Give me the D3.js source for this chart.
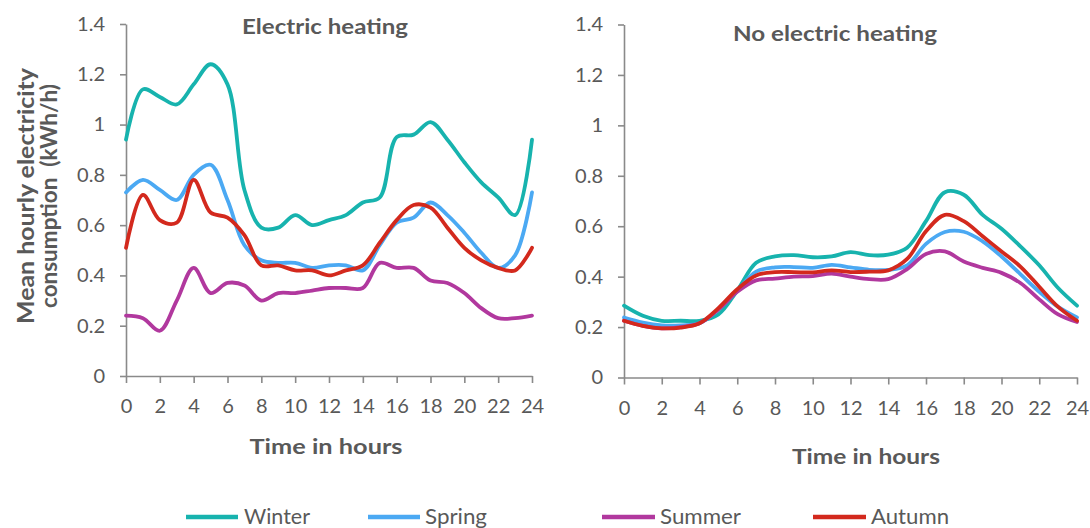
<!DOCTYPE html>
<html>
<head>
<meta charset="utf-8">
<script src="https://cdn.jsdelivr.net/npm/d3@7"></script>
<style>
  html, body { margin: 0; padding: 0; background: #fff; }
  svg { display: block; font-family: Lato, "Open Sans", sans-serif; }
</style>
</head>
<body>
<svg id="chart" width="1090" height="528"></svg>
<script>
// Hours of the day (x categories)
const hours = d3.range(0, 25);

// Mean hourly consumption (kWh/h), households with electric heating
const elecWinter = [0.94, 1.14, 1.11, 1.08, 1.16, 1.24, 1.16, 0.74, 0.59, 0.59, 0.64, 0.60, 0.62,
                    0.64, 0.69, 0.71, 0.95, 0.96, 1.01, 0.94, 0.85, 0.77, 0.71, 0.64, 0.94];
const elecSpring = [0.73, 0.78, 0.74, 0.70, 0.80, 0.84, 0.70, 0.52, 0.46, 0.45, 0.45, 0.43, 0.44,
                    0.44, 0.42, 0.52, 0.61, 0.63, 0.69, 0.64, 0.57, 0.49, 0.43, 0.48, 0.73];
const elecSummer = [0.24, 0.23, 0.18, 0.30, 0.43, 0.33, 0.37, 0.36, 0.30, 0.33, 0.33, 0.34, 0.35,
                    0.35, 0.35, 0.45, 0.43, 0.43, 0.38, 0.37, 0.33, 0.27, 0.23, 0.23, 0.24];
const elecAutumn = [0.51, 0.72, 0.62, 0.61, 0.78, 0.65, 0.63, 0.56, 0.44, 0.44, 0.42, 0.42, 0.40,
                    0.42, 0.44, 0.53, 0.62, 0.68, 0.67, 0.59, 0.51, 0.46, 0.43, 0.42, 0.51];

// Mean hourly consumption (kWh/h), households without electric heating
const noElecWinter = [0.285, 0.245, 0.225, 0.225, 0.225, 0.25, 0.345, 0.455, 0.48, 0.485, 0.477, 0.48, 0.497,
                      0.485, 0.487, 0.515, 0.62, 0.735, 0.725, 0.645, 0.59, 0.52, 0.445, 0.355, 0.285];
const noElecSpring = [0.238, 0.218, 0.207, 0.207, 0.215, 0.27, 0.345, 0.42, 0.437, 0.438, 0.435, 0.447, 0.437,
                      0.427, 0.427, 0.445, 0.53, 0.577, 0.578, 0.54, 0.48, 0.41, 0.34, 0.28, 0.238];
const noElecSummer = [0.225, 0.205, 0.195, 0.2, 0.215, 0.27, 0.34, 0.385, 0.392, 0.4, 0.402, 0.412, 0.4,
                      0.39, 0.39, 0.43, 0.49, 0.5, 0.46, 0.435, 0.415, 0.375, 0.31, 0.25, 0.22];
const noElecAutumn = [0.225, 0.205, 0.195, 0.198, 0.215, 0.275, 0.35, 0.405, 0.418, 0.418, 0.417, 0.425, 0.418,
                      0.42, 0.425, 0.47, 0.58, 0.645, 0.62, 0.56, 0.5, 0.44, 0.36, 0.28, 0.225];

const seasons = ["Winter", "Spring", "Summer", "Autumn"];
const seasonColors = ["#17b3ae", "#4ba9f3", "#b1389e", "#d3291d"];

const xTickValues = d3.range(0, 25, 2);
const xTickLabels = ["0", "2", "4", "6", "8", "10", "12", "14", "16", "18", "20", "22", "24"];
const yTickValues = [0, 0.2, 0.4, 0.6, 0.8, 1, 1.2, 1.4];
const yTickLabels = ["0", "0.2", "0.4", "0.6", "0.8", "1", "1.2", "1.4"];

const panelTitles = ["Electric heating", "No electric heating"];
const xAxisTitle = "Time in hours";
const yAxisTitleLines = ["Mean hourly electricity", "consumption  (kWh/h)"];

const TEXT = "#595959";
const AXIS = "#8a8a8a";

const svg = d3.select("#chart");

const panels = [
  {
    series: [elecWinter, elecSpring, elecSummer, elecAutumn],
    x: [126, 532], y: [376, 24],
    title: { x: 325, y: 34, w: 166 },
    xTitle: { x: 326, y: 454, w: 153 }
  },
  {
    series: [noElecWinter, noElecSpring, noElecSummer, noElecAutumn],
    x: [624, 1077], y: [377.5, 24.5],
    title: { x: 835, y: 41, w: 204 },
    xTitle: { x: 866, y: 464, w: 148 }
  }
];

panels.forEach((p, pi) => {
  const x = d3.scaleLinear().domain([0, 24]).range(p.x);
  const y = d3.scaleLinear().domain([0, 1.4]).range(p.y);

  // y axis
  const yAxis = d3.axisLeft(y)
    .tickValues(yTickValues)
    .tickFormat((d, i) => yTickLabels[i])
    .tickSize(6).tickPadding(15).tickSizeOuter(0);
  const gy = svg.append("g").attr("transform", `translate(${p.x[0]},0)`).call(yAxis);

  // x axis
  const xAxis = d3.axisBottom(x)
    .tickValues(xTickValues)
    .tickFormat((d, i) => xTickLabels[i])
    .tickSize(7).tickPadding(16).tickSizeOuter(0);
  const gx = svg.append("g").attr("transform", `translate(0,${p.y[0]})`).call(xAxis);

  [gx, gy].forEach(g => {
    g.select(".domain").attr("stroke", AXIS).attr("stroke-width", 1.6);
    g.selectAll(".tick line").attr("stroke", AXIS).attr("stroke-width", 1.6);
    g.selectAll(".tick text")
      .attr("fill", TEXT)
      .style("font-size", "20px")
      .style("font-family", "Lato, sans-serif");
  });

  // season curves
  const line = d3.line()
    .x((d, i) => x(hours[i]))
    .y(d => y(d))
    .curve(d3.curveCatmullRom.alpha(0.5));

  svg.append("g")
    .selectAll("path")
    .data(p.series)
    .join("path")
    .attr("d", line)
    .attr("fill", "none")
    .attr("stroke", (d, i) => seasonColors[i])
    .attr("stroke-width", 3.8)
    .attr("stroke-linejoin", "round")
    .attr("stroke-linecap", "round");

  // panel title
  svg.append("text")
    .attr("x", p.title.x).attr("y", p.title.y)
    .attr("text-anchor", "middle")
    .attr("textLength", p.title.w).attr("lengthAdjust", "spacingAndGlyphs")
    .attr("fill", TEXT)
    .style("font-weight", "bold").style("font-size", "20px")
    .text(panelTitles[pi]);

  // x axis title
  svg.append("text")
    .attr("x", p.xTitle.x).attr("y", p.xTitle.y)
    .attr("text-anchor", "middle")
    .attr("textLength", p.xTitle.w).attr("lengthAdjust", "spacingAndGlyphs")
    .attr("fill", TEXT)
    .style("font-weight", "bold").style("font-size", "21px")
    .text(xAxisTitle);
});

// y axis title (two lines, rotated)
const yTitle = svg.append("g").attr("transform", "translate(0,196) rotate(-90)");
const yTitleLines = [{ dy: 34, w: 256 }, { dy: 57, w: 224 }];
yTitle.selectAll("text")
  .data(yAxisTitleLines)
  .join("text")
  .attr("x", 0)
  .attr("y", (d, i) => yTitleLines[i].dy)
  .attr("text-anchor", "middle")
  .attr("textLength", (d, i) => yTitleLines[i].w)
  .attr("lengthAdjust", "spacingAndGlyphs")
  .attr("fill", TEXT)
  .style("font-weight", "bold").style("font-size", "23px")
  .style("white-space", "pre")
  .text(d => d);

// legend
const legendItems = [
  { x1: 186, x2: 238, tx: 244, tw: 66 },
  { x1: 368, x2: 420, tx: 425, tw: 62 },
  { x1: 602, x2: 655, tx: 660, tw: 81 },
  { x1: 813, x2: 866, tx: 871, tw: 78 }
];
const legend = svg.append("g");
const li = legend.selectAll("g").data(seasons).join("g");
li.append("line")
  .attr("x1", (d, i) => legendItems[i].x1)
  .attr("x2", (d, i) => legendItems[i].x2)
  .attr("y1", 517).attr("y2", 517)
  .attr("stroke", (d, i) => seasonColors[i])
  .attr("stroke-width", 4.5);
li.append("text")
  .attr("x", (d, i) => legendItems[i].tx)
  .attr("y", 524)
  .attr("textLength", (d, i) => legendItems[i].tw)
  .attr("lengthAdjust", "spacingAndGlyphs")
  .attr("fill", TEXT)
  .style("font-size", "21px")
  .text(d => d);
</script>
</body>
</html>
